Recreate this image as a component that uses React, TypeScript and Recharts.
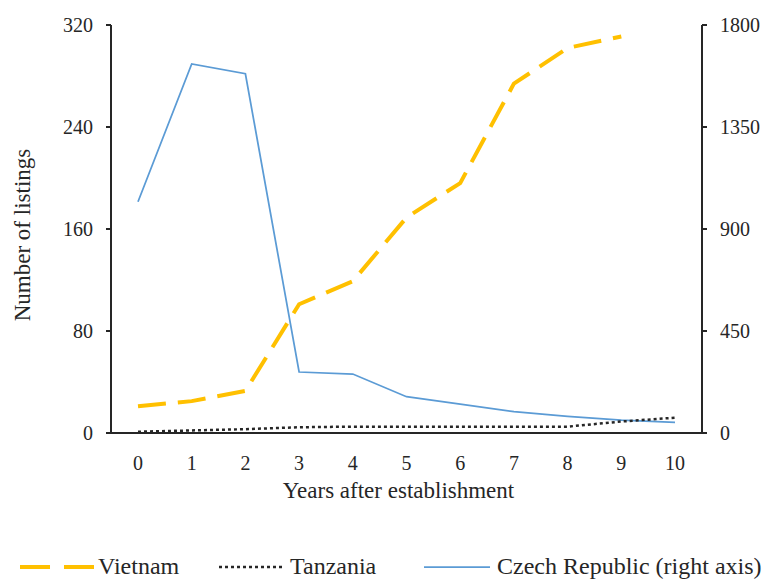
import { Legend, Line, LineChart, XAxis, YAxis } from "recharts";

const YEARS = [0, 1, 2, 3, 4, 5, 6, 7, 8, 9, 10];
const VIETNAM = [21, 25, 33, 101, 119, 169, 196, 274, 302, 311, null];
const TANZANIA = [1, 2, 3, 4.5, 5, 5, 5, 5, 5, 9, 12];
const CZECH = [1020, 1628, 1585, 269, 260, 160, 127, 94, 73, 57, 47];
const LEFT_TICKS = [0, 80, 160, 240, 320];
const RIGHT_TICKS = [0, 450, 900, 1350, 1800];

const data = YEARS.map((year, i) => ({
  year,
  vietnam: VIETNAM[i],
  tanzania: TANZANIA[i],
  czech: CZECH[i]
}));

const FONT = "Liberation Serif, Tinos, DejaVu Serif, serif";
const INK = "#262626";
const YELLOW = "#FFC000";
const BLUE = "#5B9BD5";
const tick = { fontSize: 20, fill: INK, style: { fontFamily: FONT } };
const title = { fontSize: 23, fill: INK, style: { fontFamily: FONT } };
const legendText = { fontSize: 24, fill: INK, style: { fontFamily: FONT } };

function LegendBox() {
  return (
    <svg width={764} height={28} style={{ display: "block" }}>
      <line x1={20} x2={94} y1={14} y2={14} stroke={YELLOW} strokeWidth={4} strokeDasharray="30 14" />
      <text x={98} y={21} {...legendText}>Vietnam</text>
      <line x1={219} x2={283} y1={14} y2={14} stroke={INK} strokeWidth={2.5} strokeDasharray="3 3" />
      <text x={290} y={21} {...legendText}>Tanzania</text>
      <line x1={424} x2={490} y1={14} y2={14} stroke={BLUE} strokeWidth={1.75} />
      <text x={497} y={21} {...legendText}>Czech Republic (right axis)</text>
    </svg>
  );
}

export default function App() {
  return (
    <div style={{ position: "absolute", left: 0, top: 0, width: 764, height: 581, background: "#fff", fontFamily: FONT }}>
      <LineChart width={764} height={581} data={data} margin={{ top: 25, right: 0, bottom: 0, left: 0 }}>
        <XAxis
          dataKey="year"
          height={120}
          padding={{ left: 27, right: 27 }}
          tick={tick}
          tickLine={false}
          tickSize={0}
          tickMargin={23}
          axisLine={{ stroke: INK, strokeWidth: 2 }}
          label={{
            content: ({ viewBox }: any) => (
              <text x={viewBox.x + viewBox.width / 2 - 8} y={viewBox.y + 65} textAnchor="middle" {...title}>
                Years after establishment
              </text>
            )
          }}
        />
        <YAxis
          yAxisId="left"
          orientation="left"
          width={111}
          domain={[0, 320]}
          ticks={LEFT_TICKS}
          tick={tick}
          tickSize={5}
          tickMargin={13}
          tickLine={{ stroke: INK, strokeWidth: 2 }}
          axisLine={{ stroke: INK, strokeWidth: 2 }}
          label={{
            content: ({ viewBox }: any) => {
              const cx = viewBox.x + 22;
              const cy = viewBox.y + viewBox.height / 2 + 6;
              return (
                <text
                  x={cx}
                  y={cy}
                  transform={`rotate(-90 ${cx} ${cy})`}
                  textAnchor="middle"
                  dominantBaseline="central"
                  {...title}
                >
                  Number of listings
                </text>
              );
            }
          }}
        />
        <YAxis
          yAxisId="right"
          orientation="right"
          width={62}
          domain={[0, 1800]}
          ticks={RIGHT_TICKS}
          tick={tick}
          tickSize={5}
          tickMargin={13}
          tickLine={{ stroke: INK, strokeWidth: 2 }}
          axisLine={{ stroke: INK, strokeWidth: 2 }}
        />
        <Legend verticalAlign="bottom" height={28} content={() => <LegendBox />} />
        <Line
          yAxisId="right"
          dataKey="czech"
          stroke={BLUE}
          strokeWidth={1.75}
          dot={false}
          type="linear"
          isAnimationActive={false}
        />
        <Line
          yAxisId="left"
          dataKey="tanzania"
          stroke={INK}
          strokeWidth={2.5}
          strokeDasharray="3 3"
          dot={false}
          type="linear"
          isAnimationActive={false}
        />
        <Line
          yAxisId="left"
          dataKey="vietnam"
          stroke={YELLOW}
          strokeWidth={4}
          strokeDasharray="28 12"
          dot={false}
          type="linear"
          isAnimationActive={false}
        />
      </LineChart>
    </div>
  );
}
